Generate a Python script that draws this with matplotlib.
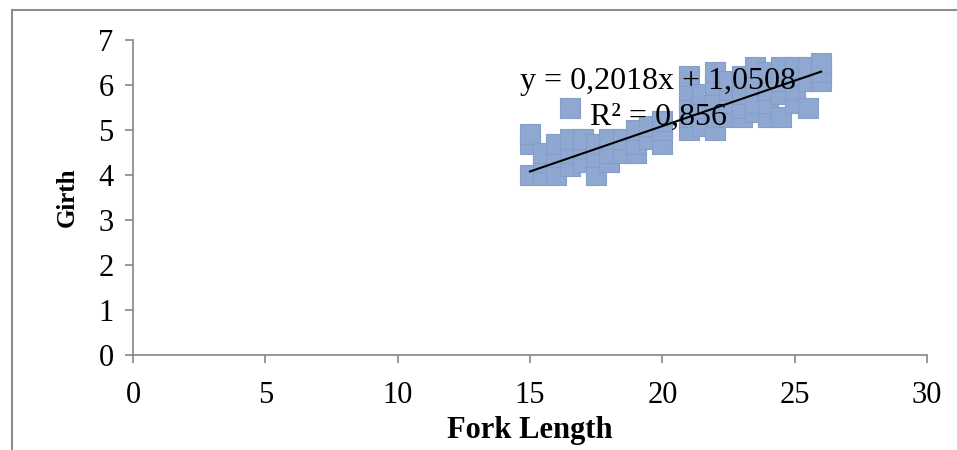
import matplotlib
matplotlib.use("Agg")
import matplotlib.pyplot as plt
from matplotlib.lines import Line2D
import numpy as np

fork_length = [15.0, 15.0, 15.0, 15.5, 15.5, 15.5, 16.0, 16.0, 16.0, 16.5, 16.5, 16.5, 16.5,
               17.0, 17.0, 17.0, 17.5, 17.5, 17.5, 18.0, 18.0, 18.0, 18.5, 18.5, 19.0, 19.0, 19.0,
               19.5, 19.5, 20.0, 20.0, 20.0,
               21.0, 21.0, 21.0, 21.0, 21.0, 21.5, 21.5, 21.5,
               22.0, 22.0, 22.0, 22.0, 22.0, 22.5, 22.5, 22.5, 22.5,
               23.0, 23.0, 23.0, 23.0, 23.5, 23.5, 23.5, 23.5,
               24.0, 24.0, 24.0, 24.0, 24.5, 24.5, 24.5, 24.5,
               25.0, 25.0, 25.0, 25.0, 25.5, 25.5, 25.5, 26.0, 26.0, 26.0]
girth = [4.0, 4.7, 4.9, 4.0, 4.3, 4.5, 4.0, 4.4, 4.7, 4.2, 4.5, 4.8, 5.5,
         4.3, 4.6, 4.8, 4.0, 4.4, 4.7, 4.3, 4.5, 4.8, 4.5, 4.8, 4.5, 4.7, 5.0,
         4.8, 5.1, 4.7, 5.0, 5.2,
         5.0, 5.3, 5.6, 5.9, 6.2, 5.1, 5.5, 5.8,
         5.0, 5.3, 5.7, 6.0, 6.3, 5.3, 5.6, 5.9, 6.1,
         5.3, 5.5, 5.8, 6.2, 5.4, 5.6, 6.0, 6.4,
         5.3, 5.6, 5.9, 6.3, 5.3, 5.8, 6.1, 6.4,
         5.6, 5.9, 6.2, 6.4, 5.5, 6.1, 6.4, 6.1, 6.3, 6.5]

slope = 0.2018
intercept = 1.0508
r2_text = "R² = 0,856"
eq_text = "y = 0,2018x + 1,0508"
x_ticks = [0, 5, 10, 15, 20, 25, 30]
y_ticks = [0, 1, 2, 3, 4, 5, 6, 7]

plt.rcParams['font.family'] = ['Liberation Serif', 'DejaVu Serif']

fig = plt.figure(figsize=(9.57, 4.5), dpi=100)
ax = fig.add_axes([133/957, 95/450, (927-133)/957, (355-40)/450])

ax.scatter(fork_length, girth, marker='s', s=200, facecolor='#8FA8D2',
           edgecolor='#859DC8', linewidths=0.8, zorder=2)

xs = np.array([min(fork_length), max(fork_length)])
ax.plot(xs, slope * xs + intercept, color='black', lw=1.5, zorder=3)

ax.text(19.83, 6.07, eq_text, ha='center', va='center', fontsize=23, zorder=4)
ax.text(19.85, 5.29, r2_text, ha='center', va='center', fontsize=23, zorder=4)

ax.set_xlim(0, 30)
ax.set_ylim(0, 7)
ax.set_xticks(x_ticks)
ax.set_yticks(y_ticks)
ax.set_xticklabels([str(t) for t in x_ticks])
ax.set_yticklabels([str(t) for t in y_ticks])
for side in ['top', 'right']:
    ax.spines[side].set_visible(False)
for side in ['left', 'bottom']:
    ax.spines[side].set_color('#868686')
    ax.spines[side].set_linewidth(1.2)
ax.tick_params(axis='both', direction='out', length=6, width=1.2, color='#868686',
               labelsize=22)
ax.tick_params(axis='x', pad=13)
ax.tick_params(axis='y', pad=8)
ax.set_xlabel('Fork Length', fontsize=22, fontweight='bold', labelpad=4)
ax.set_ylabel('Girth', fontsize=18, fontweight='bold', labelpad=14)

# outer chart frame
fig.add_artist(Line2D([12/957, 12/957], [0, 1 - 10/450], color='#8c8c8c', lw=1.5,
                      transform=fig.transFigure))
fig.add_artist(Line2D([12/957, 1], [1 - 10/450, 1 - 10/450], color='#8c8c8c', lw=1.5,
                      transform=fig.transFigure))

fig.savefig('out.png', dpi=100)
